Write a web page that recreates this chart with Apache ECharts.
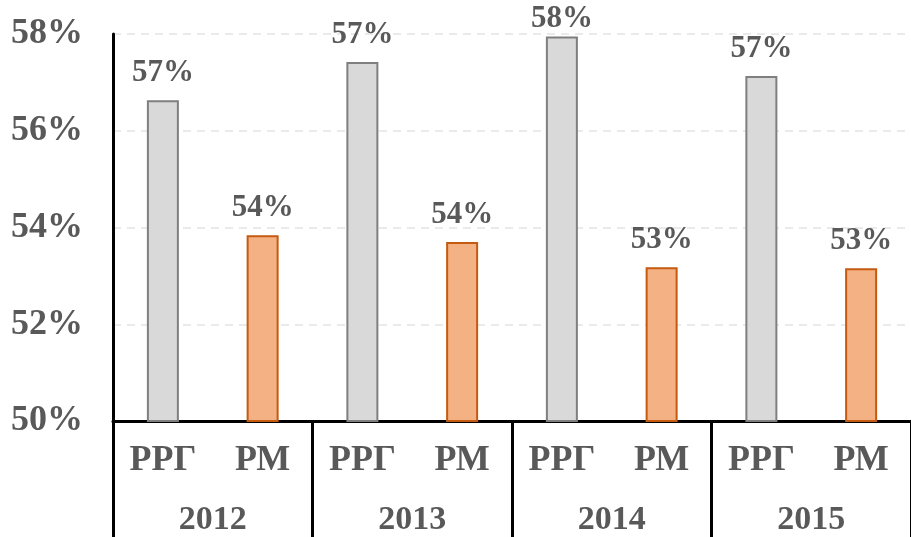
<!DOCTYPE html>
<html>
<head>
<meta charset="utf-8">
<script src="https://cdn.jsdelivr.net/npm/echarts@6/dist/echarts.min.js"></script>
<style>
  html, body { margin: 0; padding: 0; background: #fff; }
  #chart { width: 911px; height: 537px; }
</style>
</head>
<body>
<div id="chart"></div>
<script>
// данные с картинки
const years = ['2012', '2013', '2014', '2015']
const groups = ['РРГ', 'РМ']
const rrgValues = [56.63, 57.42, 57.95, 57.13]
const rmValues = [53.84, 53.70, 53.18, 53.16]
const yTicks = [50, 52, 54, 56, 58]

const textColor = '#595959'
const font = 'Liberation Serif'
const yMax = yTicks[yTicks.length - 1]

// подпись у самого верха прижимаем к столбцу, иначе обрежется
function labelFor (v) {
  return { distance: v > yMax - 0.3 ? 2 : 12 }
}

// 8 категорий: РРГ / РМ по каждому году
const cats = []
const barData = []
years.forEach((y, i) => {
  cats.push(groups[0])
  barData.push({
    value: rrgValues[i],
    label: labelFor(rrgValues[i]),
    itemStyle: { color: '#d9d9d9', borderColor: '#7f7f7f', borderWidth: 2 }
  })
  cats.push(groups[1])
  barData.push({
    value: rmValues[i],
    label: labelFor(rmValues[i]),
    itemStyle: { color: '#f4b183', borderColor: '#c55a11', borderWidth: 2 }
  })
})

const chart = echarts.init(document.getElementById('chart'), null, { renderer: 'canvas' })
chart.setOption({
  animation: false,
  backgroundColor: '#fff',
  grid: { left: 113, top: 34, width: 808, bottom: 115 },
  xAxis: [
    {
      type: 'category',
      data: cats,
      position: 'bottom',
      axisLine: { show: true, lineStyle: { color: '#000', width: 3 } },
      axisTick: { show: false },
      axisLabel: {
        color: textColor, fontFamily: font, fontWeight: 'bold', fontSize: 36, margin: 22
      }
    },
    {
      type: 'category',
      data: years,
      position: 'bottom',
      offset: 0,
      axisLine: { show: false },
      axisTick: { show: true, length: 120, lineStyle: { color: '#000', width: 3 } },
      axisLabel: {
        color: textColor, fontFamily: font, fontWeight: 'bold', fontSize: 34, margin: 82
      }
    }
  ],
  yAxis: {
    type: 'value',
    min: yTicks[0],
    max: yMax,
    interval: 2,
    axisLine: { show: true, lineStyle: { color: '#000', width: 3 } },
    axisTick: { show: false },
    splitLine: { show: true, lineStyle: { color: '#e3e3e3', type: [8, 6], width: 1.5 } },
    axisLabel: {
      color: textColor, fontFamily: font, fontWeight: 'bold', fontSize: 36, margin: 30,
      formatter: v => v + '%'
    }
  },
  series: [{
    type: 'bar',
    xAxisIndex: 0,
    data: barData,
    barWidth: 32,
    label: {
      show: true,
      position: 'top',
      color: textColor,
      fontFamily: font,
      fontWeight: 'bold',
      fontSize: 31,
      formatter: p => Math.round(p.value) + '%'
    }
  }]
})
</script>
</body>
</html>
